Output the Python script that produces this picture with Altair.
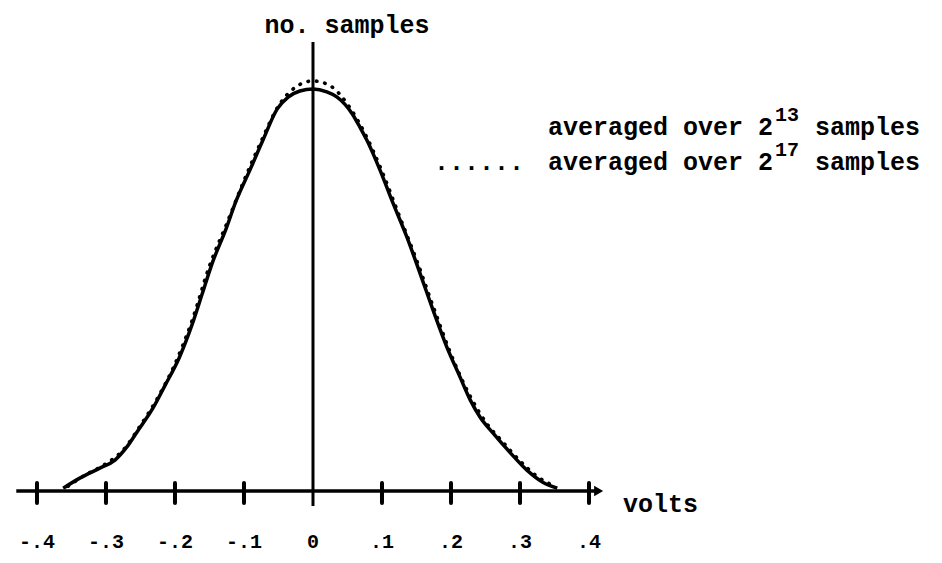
import altair as alt
import pandas as pd

# ---- data ----
# solid curve: averaged over 2^13 samples (volts, relative no. of samples)
v_solid = [-0.362, -0.338, -0.309, -0.287, -0.270, -0.255, -0.232, -0.214, -0.194, -0.175,
           -0.161, -0.146, -0.126, -0.112, -0.091, -0.072, -0.052, -0.036, -0.019, 0.0,
           0.020, 0.035, 0.057, 0.068, 0.078, 0.097, 0.116, 0.136, 0.155, 0.174,
           0.194, 0.213, 0.228, 0.242, 0.261, 0.286, 0.310, 0.333, 0.354]
n_solid = [7, 32, 57, 77, 109, 147, 206, 264, 331, 415,
           488, 567, 652, 719, 800, 875, 950, 980, 995, 1000,
           993, 980, 938, 905, 873, 799, 716, 632, 542, 450,
           358, 284, 226, 184, 144, 95, 52, 22, 7]

# dotted curve: averaged over 2^17 samples
v_dot = [-0.355, -0.33, -0.30, -0.275, -0.25, -0.225, -0.20, -0.175, -0.15, -0.125,
         -0.10, -0.075, -0.05, -0.025, 0.0, 0.025, 0.05, 0.075, 0.10, 0.125,
         0.15, 0.175, 0.20, 0.225, 0.25, 0.275, 0.30, 0.325, 0.35]
n_dot = [12, 40, 68, 102, 163, 232, 316, 425, 560, 665,
         772, 870, 958, 1005, 1020, 1008, 962, 890, 795, 685,
         575, 455, 340, 245, 172, 122, 75, 36, 12]

tick_values = [-0.4, -0.3, -0.2, -0.1, 0.1, 0.2, 0.3, 0.4]
label_values = [-0.4, -0.3, -0.2, -0.1, 0.0, 0.1, 0.2, 0.3, 0.4]
label_texts = ["-.4", "-.3", "-.2", "-.1", "0", ".1", ".2", ".3", ".4"]

# ---- scales ----
XD = [-0.442, 0.8913]
YD = [-159.2, 1201.5]
W, H = 920, 547
FONT = "Liberation Mono"


def X(f="v"):
    return alt.X(f"{f}:Q", scale=alt.Scale(domain=XD, nice=False, zero=False), axis=None)


def Y(f="n"):
    return alt.Y(f"{f}:Q", scale=alt.Scale(domain=YD, nice=False, zero=False), axis=None)


solid_df = pd.DataFrame({"v": v_solid, "n": n_solid})
dot_df = pd.DataFrame({"v": v_dot, "n": n_dot})

solid = alt.Chart(solid_df).mark_line(
    color="black", strokeWidth=3.5, interpolate="monotone"
).encode(x=X(), y=Y())

dotted = alt.Chart(dot_df).mark_line(
    color="black", strokeWidth=3.6, strokeDash=[0.5, 8], strokeCap="round", interpolate="monotone"
).encode(x=X(), y=Y())

xaxis_df = pd.DataFrame({"v": [-0.43], "v2": [0.41], "n": [0]})
xaxis = alt.Chart(xaxis_df).mark_rule(color="black", strokeWidth=3.5).encode(
    x=X(), x2="v2:Q", y=Y())

arrow_df = pd.DataFrame({"v": [0.414], "n": [0]})
arrow = alt.Chart(arrow_df).mark_point(
    shape="triangle-right", filled=True, color="black", size=110, opacity=1
).encode(x=X(), y=Y())

yaxis_df = pd.DataFrame({"v": [0.0], "n": [-37], "n2": [1117]})
yaxis = alt.Chart(yaxis_df).mark_rule(color="black", strokeWidth=3).encode(
    x=X(), y=Y(), y2="n2:Q")

ticks_df = pd.DataFrame({"v": tick_values, "n": [-30] * len(tick_values), "n2": [20] * len(tick_values)})
ticks = alt.Chart(ticks_df).mark_rule(color="black", strokeWidth=4, strokeCap="round").encode(
    x=X(), y=Y(), y2="n2:Q")

labels_df = pd.DataFrame({"v": label_values, "t": label_texts, "n": [-127] * len(label_values)})
labels = alt.Chart(labels_df).mark_text(
    font=FONT, fontSize=20, fontWeight="bold", color="black", align="center", baseline="middle"
).encode(x=X(), y=Y(), text="t:N")


def txt(s, x, y, size=25, align="left"):
    return alt.Chart(pd.DataFrame({"t": [s]})).mark_text(
        font=FONT, fontSize=size, fontWeight="bold", color="black", align=align, baseline="alphabetic"
    ).encode(x=alt.value(x), y=alt.value(y), text="t:N")


ytitle = txt("no. samples", 339, 25, align="center")
xtitle = txt("volts", 615, 504)

leg1a = txt("averaged over 2", 540, 127)
leg1s = txt("13", 767, 113, size=20)
leg1b = txt("samples", 807, 127)
leg2d = txt("......", 426, 162)
leg2a = txt("averaged over 2", 540, 162)
leg2s = txt("17", 767, 148, size=20)
leg2b = txt("samples", 807, 162)

chart = alt.layer(
    dotted, solid, xaxis, arrow, yaxis, ticks, labels,
    ytitle, xtitle, leg1a, leg1s, leg1b, leg2d, leg2a, leg2s, leg2b
).properties(
    width=W, height=H,
    autosize=alt.AutoSizeParams(type="none"),
    padding={"left": 0, "top": 0, "right": 0, "bottom": 0},
    background="white",
).configure_view(strokeWidth=0)

chart.save("out.html", embed_options={"renderer": "svg", "actions": False})
